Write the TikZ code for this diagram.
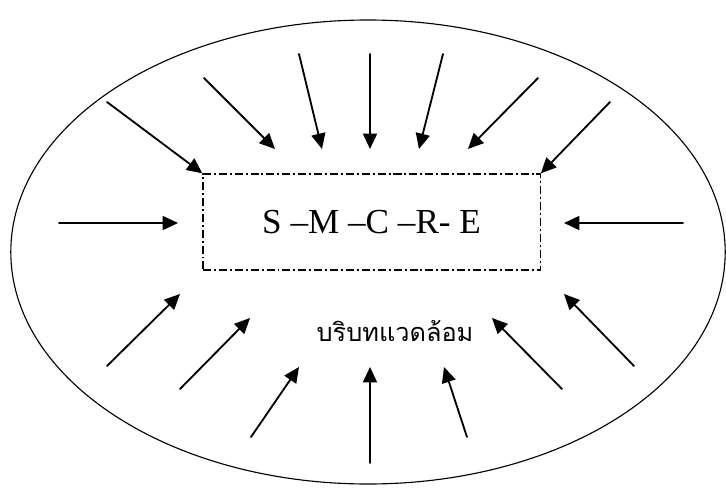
\documentclass[tikz,border=0pt]{standalone}
\usepackage{fontspec}
\setmainfont{Liberation Serif}
\newfontfamily\thaifont[Script=Thai]{Loma}
\usetikzlibrary{arrows.meta,positioning}
\tikzset{
  every picture/.style={line width=1pt, line cap=round, line join=round,
    >={Triangle[length=11pt,width=10pt]}},
  % Linien
  rim/.style={line width=0.8pt},
  flow/.style={line width=1.3pt, ->},
  % Kasten in der Mitte
  corebox/.style={draw, line width=0.9pt, line cap=butt,
    dash pattern=on 5.7pt off 2.1pt on 1.4pt off 2.1pt,
    minimum width=8.43cm, minimum height=2.4cm, inner sep=0pt,
    font=\fontsize{25}{30}\selectfont},
  lbl/.style={font=\thaifont\fontsize{18}{22}\selectfont},
}
\begin{document}
\begin{tikzpicture}
  \useasboundingbox (0,0) rectangle (18.15,12.2);
  \draw[rim] (9.2,5.9) ellipse [x radius=8.93, y radius=5.8];
  \node[corebox] (smcre) at (9.29,6.65) {S –M –C –R- E};
  \node[lbl] (ctx) at (9.875,3.925) {บริบทแวดล้อม};
  % Pfeile von oben
  \coordinate (a1) at (2.675,9.65);  \draw[flow] (a1) -- (smcre.north west);
  \coordinate (a2) at (5.1,10.25);   \coordinate (b2) at (6.875,8.475); \draw[flow] (a2) -- (b2);
  \coordinate (a3) at (7.475,10.85); \coordinate (b3) at (8.05,8.475);  \draw[flow] (a3) -- (b3);
  \coordinate (a4) at (9.25,10.85);  \coordinate (b4) at (9.25,8.475);  \draw[flow] (a4) -- (b4);
  \coordinate (a5) at (11.075,10.85);\coordinate (b5) at (10.475,8.475);\draw[flow] (a5) -- (b5);
  \coordinate (a6) at (13.45,10.25); \coordinate (b6) at (11.7,8.475);  \draw[flow] (a6) -- (b6);
  \coordinate (a7) at (15.25,9.65);  \draw[flow] (a7) -- (smcre.north east);
  % seitlich
  \coordinate (a8) at (1.475,6.625); \coordinate (b8) at (4.45,6.625);  \draw[flow] (a8) -- (b8);
  \coordinate (a9) at (17.075,6.625);\coordinate (b9) at (14.1,6.625);  \draw[flow] (a9) -- (b9);
  % Pfeile von unten
  \coordinate (a10) at (2.675,3.05); \coordinate (b10) at (4.5,4.85);   \draw[flow] (a10) -- (b10);
  \coordinate (a11) at (4.5,2.475);  \coordinate (b11) at (6.25,4.25);  \draw[flow] (a11) -- (b11);
  \coordinate (a12) at (6.275,1.275);\coordinate (b12) at (7.475,3.025);\draw[flow] (a12) -- (b12);
  \coordinate (a13) at (9.25,0.625); \coordinate (b13) at (9.25,3.025); \draw[flow] (a13) -- (b13);
  \coordinate (a14) at (11.675,1.275);\coordinate (b14) at (11.1,3.025);\draw[flow] (a14) -- (b14);
  \coordinate (a15) at (14.05,2.475);\coordinate (b15) at (12.3,4.25);  \draw[flow] (a15) -- (b15);
  \coordinate (a16) at (15.85,3.05); \coordinate (b16) at (14.1,4.85);  \draw[flow] (a16) -- (b16);
\end{tikzpicture}
\end{document}
